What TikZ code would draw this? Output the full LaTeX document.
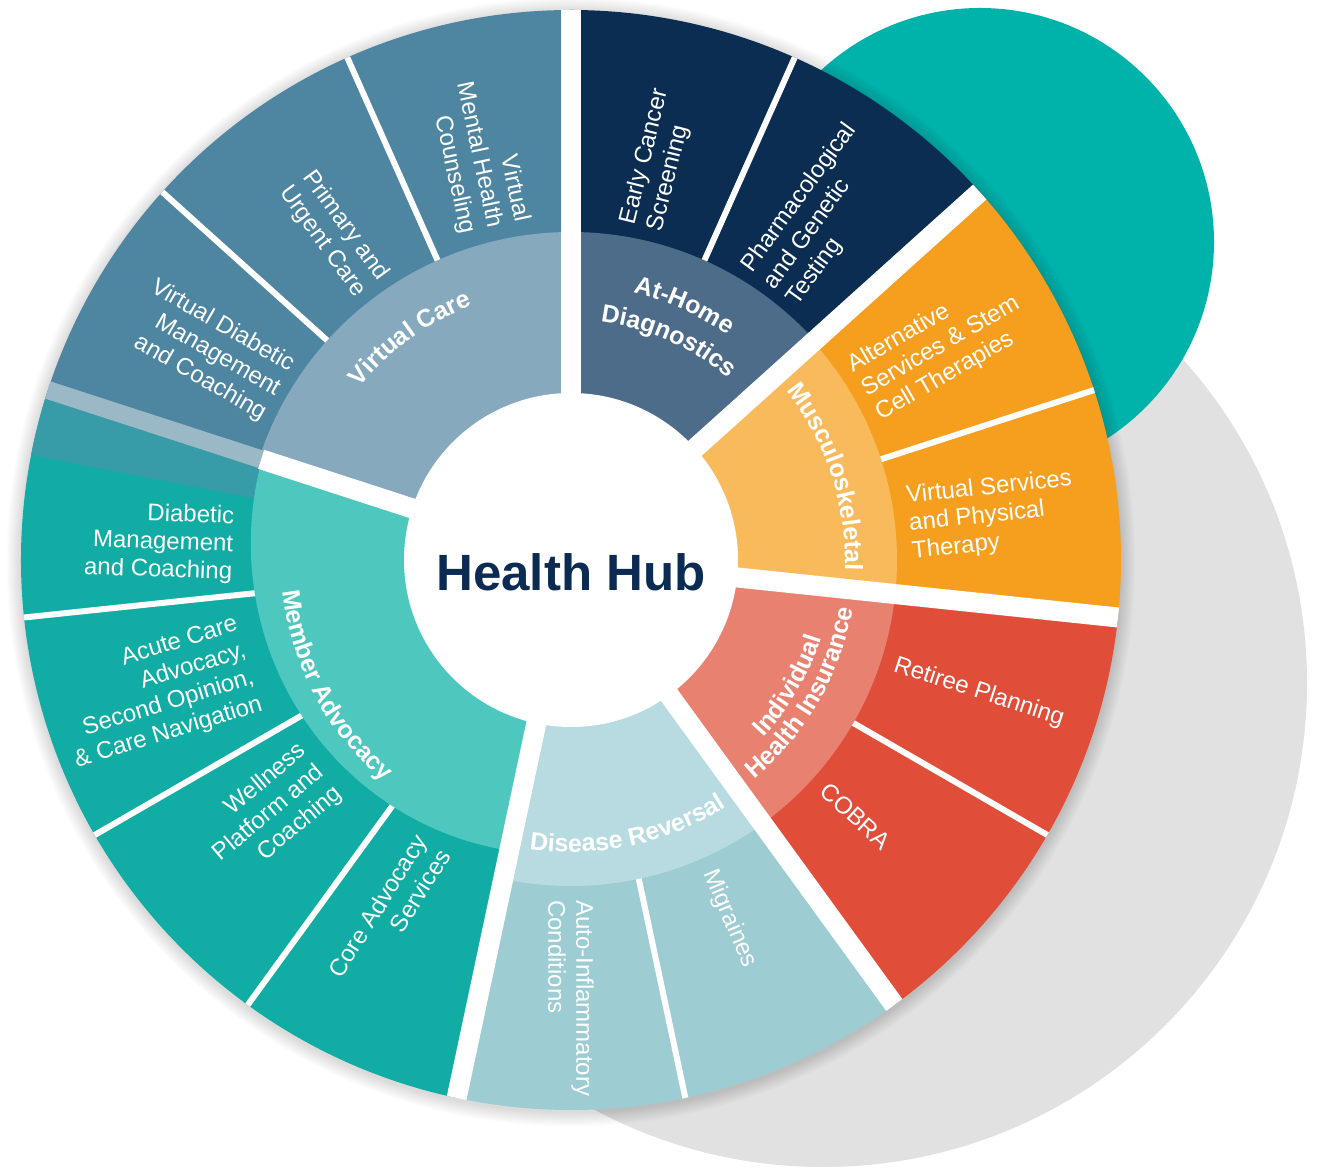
\documentclass[tikz,border=0pt]{standalone}
\usepackage{fontspec}
\setmainfont{Liberation Sans}
\usetikzlibrary{decorations.text}

% palette
\definecolor{greyDisc}{HTML}{E1E1E1}
\definecolor{tealDisc}{HTML}{00B3AA}
\definecolor{hubNavy}{HTML}{0C2B52}
\definecolor{vcOut}{HTML}{4E86A2}
\definecolor{vcMid}{HTML}{87A9BE}
\definecolor{ahOut}{HTML}{0B2D52}
\definecolor{ahMid}{HTML}{4D6C89}
\definecolor{mskOut}{HTML}{F69E1E}
\definecolor{mskMid}{HTML}{F9BA5C}
\definecolor{ihiOut}{HTML}{E04E3A}
\definecolor{ihiMid}{HTML}{E98171}
\definecolor{drOut}{HTML}{9DCCD3}
\definecolor{drMid}{HTML}{B7DBE0}
\definecolor{maOut}{HTML}{11ACA3}
\definecolor{maMid}{HTML}{4EC8BF}
\definecolor{maDark}{HTML}{389CA8}
\definecolor{stripLight}{HTML}{9BB8C6}

\newcommand\ringfont{\fontsize{25}{30}\selectfont\bfseries\color{white}}
% filled pie sector: colour, start angle, end angle, radius
\newcommand\ringsector[4]{\fill[#1] (0,0) -- (#2:#4) arc[start angle=#2, end angle=#3, radius=#4pt] -- cycle;}

\begin{document}
\begin{tikzpicture}[x=1pt, y=1pt,
  leaf/.style={text=white, font=\fontsize{24}{28}\selectfont, inner sep=0pt},
  leafin/.style={leaf, anchor=east, align=right},
  leafout/.style={leaf, anchor=west, align=left},
  ringlabel/.style={decorate, decoration={text along path, text align=center, text={|\ringfont|#1}}},
]
\useasboundingbox (-571,-609) rectangle (753,560);

% background discs
\fill[greyDisc] (252,-123) circle[radius=484pt];
\fill[tealDisc] (409,318) circle[radius=234pt];

% soft shadow round the wheel
\foreach \i in {1,...,12} \fill[black, opacity=0.012] (0,-2) circle[radius={550pt+\i*1.2pt}];

% outer ring
\ringsector{vcOut}{90}{162}{550}
\ringsector{ahOut}{42}{90}{550}
\ringsector{mskOut}{-6}{42}{550}
\ringsector{ihiOut}{-54}{-6}{550}
\ringsector{drOut}{-102}{-54}{550}
\ringsector{maOut}{162}{258}{550}
\ringsector{maDark}{162}{169}{550}

% thin separators between services
\foreach \a in {66,18,-30,-78,-126,-150,-174,138,114}
  \draw[white, line width=6pt] (\a:280) -- (\a:550);

% middle ring (categories)
\ringsector{vcMid}{90}{162}{328}
\ringsector{ahMid}{42}{90}{328}
\ringsector{mskMid}{-6}{42}{326}
\ringsector{ihiMid}{-54}{-6}{326}
\ringsector{drMid}{-102}{-54}{326}
\fill[maMid] (0,0) -- plot[domain=162:258, samples=60] (\x:{325-0.29*(\x-162)}) -- cycle;

% wide separators between categories
\foreach \a in {90,42,-6,-54,-102}
  \draw[white, line width=20pt] (0,0) -- (\a:550);
\draw[white, line width=20pt] (0,0) -- (162:326);
\draw[stripLight, line width=18pt] (162:326) -- (162:550);

% hub
\fill[white] (0,0) circle[radius=167pt];
\node[font=\fontsize{51}{60}\selectfont\bfseries, text=hubNavy] (hub) at (0,-12) {Health Hub};

% category labels along the middle ring
\path[ringlabel={Virtual Care}] (176:273) arc[start angle=176, end angle=76, radius=273pt];
\path[ringlabel={At-Home}] (116:274) arc[start angle=116, end angle=16, radius=274pt];
\path[ringlabel={Diagnostics}] (121:240) arc[start angle=121, end angle=11, radius=240pt];
\path[ringlabel={Musculoskeletal}] (73:274) arc[start angle=73, end angle=-37, radius=274pt];
\path[ringlabel={Individual}] (-85:262) arc[start angle=-85, end angle=25, radius=262pt];
\path[ringlabel={Health Insurance}] (-85:286) arc[start angle=-85, end angle=25, radius=286pt];
\path[ringlabel={Disease Reversal}] (-133:292) arc[start angle=-133, end angle=-23, radius=292pt];
\path[ringlabel={Member Advocacy}] (153:290) arc[start angle=153, end angle=263, radius=290pt];

% service labels in the outer ring
\node[leafout, rotate=76] (ecs) at (78:340) {Early Cancer\\Screening};
\node[leafout, rotate=54] (pgt) at (54:338) {Pharmacological\\and Genetic\\Testing};
\node[leafout, rotate=30] (asc) at (30:338) {Alternative\\Services \& Stem\\Cell Therapies};
\node[leafout, rotate=6] (vsp) at (6:340) {Virtual Services\\and Physical\\Therapy};
\node[leafout, rotate=-18] (rp) at (-18:340) {Retiree Planning};
\node[leafout, rotate=-42] (cob) at (-42:340) {COBRA};
\node[leafout, rotate=-67] (mig) at (-66:340) {Migraines};
\node[leafout, rotate=-90] (aic) at (-90:340) {Auto-Inflammatory\\Conditions};
\node[leafin, rotate=58] (cas) at (244:316) {Core Advocacy\\Services};
\node[leafin, rotate=40] (wpc) at (220:326) {Wellness\\Platform and\\Coaching};
\node[leafin, rotate=17] (aca) at (198:338) {Acute Care\\Advocacy,\\Second Opinion,\\\& Care Navigation};
\node[leafin, rotate=-2] (dmc) at (177.5:338) {Diabetic\\Management\\and Coaching};
\node[leafin, rotate=-30] (vdm) at (150:338) {Virtual Diabetic\\Management\\and Coaching};
\node[leafin, rotate=-54] (puc) at (126:338) {Primary and\\Urgent Care};
\node[leafin, rotate=-78] (vmh) at (103:341) {Virtual\\Mental Health\\Counseling};
\end{tikzpicture}
\end{document}
